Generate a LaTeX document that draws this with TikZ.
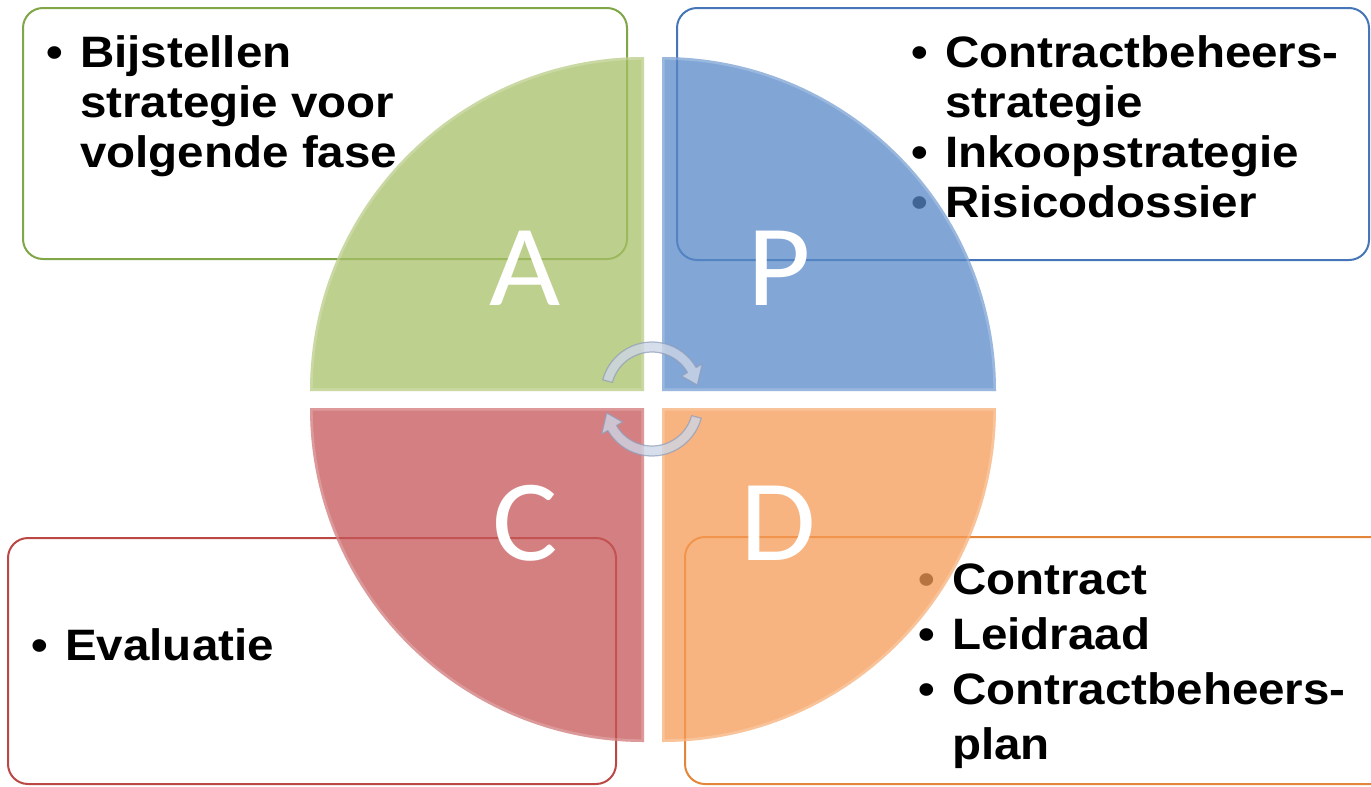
\documentclass[tikz,border=0pt]{standalone}
\usepackage{fontspec}
\newfontfamily\lstfont[FakeStretch=1.08]{Liberation Sans Bold}
\newfontfamily\phfont[FakeStretch=1.06]{Carlito}
\definecolor{qA}{RGB}{168,192,103}
\definecolor{qP}{RGB}{88,136,200}
\definecolor{qC}{RGB}{198,86,88}
\definecolor{qD}{RGB}{246,155,86}
\definecolor{bA}{RGB}{128,166,72}
\definecolor{bP}{RGB}{70,118,184}
\definecolor{bC}{RGB}{188,72,70}
\definecolor{bD}{RGB}{228,134,58}
\definecolor{arrfill}{RGB}{205,214,230}
\definecolor{arrline}{RGB}{140,155,185}
\newcommand{\bul}{\makebox[25.5pt][l]{•}}
\newcommand{\ind}{\hspace*{25.5pt}}
\begin{document}
\begin{tikzpicture}[x=0.75pt,y=-0.75pt,
  boxst/.style={draw=#1, line width=1.5pt, fill=white, rounded corners=15pt, inner sep=0pt},
  listtop/.style={anchor=base west, inner sep=0pt, align=left, font=\lstfont\fontsize{33pt}{37.5pt}\selectfont},
  listbot/.style={anchor=base west, inner sep=0pt, align=left, font=\lstfont\fontsize{33pt}{41.25pt}\selectfont},
  quart/.style={fill=#1, fill opacity=0.75},
  bevel/.style={draw=white, line width=4pt, opacity=0.2},
  letter/.style={anchor=base, inner sep=0pt, text=white, font=\phfont\fontsize{87pt}{87pt}\selectfont},
  cyc/.style={fill=arrfill, draw=arrline, line width=0.9pt, fill opacity=0.8, draw opacity=0.7, line join=round}
]
\useasboundingbox (0,0) rectangle (1371,786);
\clip (0,0) rectangle (1371,786);

% text boxes
\node[boxst=bA, minimum width=453pt, minimum height=188.25pt] (boxA) at (325,133.5) {};
\node[boxst=bP, minimum width=519pt, minimum height=189pt] (boxP) at (1023,134) {};
\node[boxst=bC, minimum width=456pt, minimum height=184.5pt] (boxC) at (312,661) {};
\node[boxst=bD, minimum width=532.5pt, minimum height=185.25pt] (boxD) at (1040,660.5) {};

% texts (anchored at the baseline of their last line)
\node[listtop] (txtA) at (46,167) {\bul Bijstellen\\\ind strategie voor\\\ind volgende fase};
\node[listtop] (txtP) at (911,217) {\bul Contractbeheers-\\\ind strategie\\\bul Inkoopstrategie\\\bul Risicodossier};
\node[listtop] (txtC) at (31,660) {\bul Evaluatie};
\node[listbot] (txtD) at (918,759) {\bul Contract\\\bul Leidraad\\\bul Contractbeheers-\\\ind plan};

% quarters
\path[quart=qA] (644,391) -- (310,391) arc[start angle=180, end angle=270, radius=334] -- cycle;
\path[quart=qP] (662,391) -- (662,57) arc[start angle=270, end angle=360, radius=334] -- cycle;
\path[quart=qC] (644,408) -- (310,408) arc[start angle=180, end angle=90, radius=334] -- cycle;
\path[quart=qD] (662,408) -- (996,408) arc[start angle=0, end angle=90, radius=334] -- cycle;
\begin{scope}
\clip (644,391) -- (310,391) arc[start angle=180, end angle=270, radius=334] -- cycle;
\draw[bevel] (644,391) -- (310,391) arc[start angle=180, end angle=270, radius=334] -- cycle;
\end{scope}
\begin{scope}
\clip (662,391) -- (662,57) arc[start angle=270, end angle=360, radius=334] -- cycle;
\draw[bevel] (662,391) -- (662,57) arc[start angle=270, end angle=360, radius=334] -- cycle;
\end{scope}
\begin{scope}
\clip (644,408) -- (310,408) arc[start angle=180, end angle=90, radius=334] -- cycle;
\draw[bevel] (644,408) -- (310,408) arc[start angle=180, end angle=90, radius=334] -- cycle;
\end{scope}
\begin{scope}
\clip (662,408) -- (996,408) arc[start angle=0, end angle=90, radius=334] -- cycle;
\draw[bevel] (662,408) -- (996,408) arc[start angle=0, end angle=90, radius=334] -- cycle;
\end{scope}

% phase letters
\node[letter] (lA) at (525,305) {A};
\node[letter] (lP) at (779,305) {P};
\node[letter] (lC) at (525,560) {C};
\node[letter] (lD) at (778,560) {D};

% cycle arrows
\path[cyc, shift={(652,393)}] (195:51) arc[start angle=195, end angle=330, radius=51]
  -- (330:58) -- (350:46) -- (330:34) -- (330:41)
  arc[start angle=330, end angle=195, radius=41] -- cycle;
\path[cyc, shift={(652,405)}] (15:51) arc[start angle=15, end angle=150, radius=51]
  -- (150:58) -- (170:46) -- (150:34) -- (150:41)
  arc[start angle=150, end angle=15, radius=41] -- cycle;
\end{tikzpicture}
\end{document}
